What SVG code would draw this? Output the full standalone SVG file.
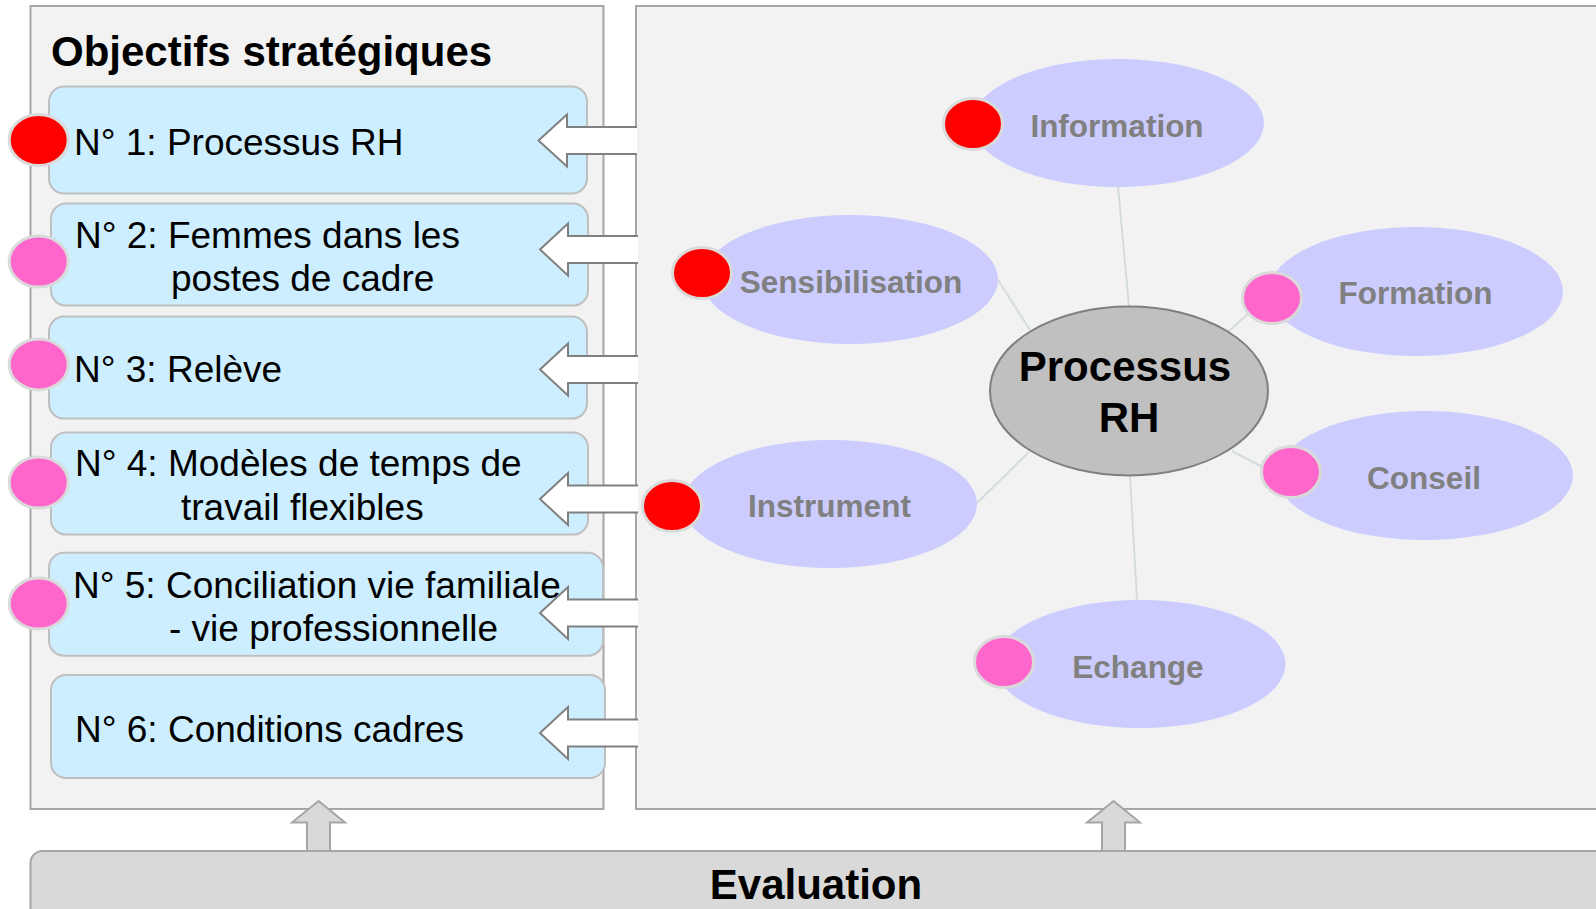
<svg xmlns="http://www.w3.org/2000/svg" width="1596" height="909" viewBox="0 0 1596 909">
<style>
.panel{fill:#f2f2f2;stroke:#a6a6a6;stroke-width:2}
.box{fill:#cceeff;stroke:#bfbfbf;stroke-width:2}
.bt{font-family:"Liberation Sans",Arial,sans-serif;font-size:37px;fill:#000}
.red{fill:#ff0000;stroke:#dadada;stroke-width:3}
.pink{fill:#ff66cc;stroke:#dadada;stroke-width:3}
.sat{fill:#ccccff}
.st{font-family:"Liberation Sans",Arial,sans-serif;font-size:31.5px;font-weight:bold;fill:#808080;text-anchor:middle}
.ba{fill:#ffffff;stroke:#808080;stroke-width:2}
.ua{fill:#d9d9d9;stroke:#a6a6a6;stroke-width:2}
.ln{stroke:#d3dbde;stroke-width:2;fill:none}
.bold{font-family:"Liberation Sans",Arial,sans-serif;font-weight:bold;fill:#000}
</style>
<rect width="1596" height="909" fill="#ffffff"/>
<g id="panel-left">
<rect class="panel" x="30.5" y="6" width="573" height="803"/>
<text class="bold" x="51" y="66" font-size="42">Objectifs stratégiques</text>
</g>
<g id="panel-right">
<rect class="panel" x="636" y="6" width="980" height="803"/>
</g>
<g id="evaluation">
<rect x="30.5" y="851" width="1590" height="80" rx="12" fill="#d9d9d9" stroke="#a6a6a6" stroke-width="2"/>
<text class="bold" x="816" y="899" font-size="42" text-anchor="middle">Evaluation</text>
</g>
<g id="connectors">
<line class="ln" x1="1118" y1="187" x2="1129" y2="306"/>
<line class="ln" x1="998" y1="280" x2="1030" y2="330"/>
<line class="ln" x1="1250" y1="312" x2="1228" y2="332"/>
<line class="ln" x1="977" y1="503" x2="1029" y2="452"/>
<line class="ln" x1="1266" y1="469" x2="1232" y2="451"/>
<line class="ln" x1="1130" y1="475" x2="1137" y2="600"/>
<path class="ua" d="M307,851 V822.5 H292 L318.6,801 L345,822.5 H330 V851 Z"/>
<path class="ua" d="M1102,851 V822.5 H1087 L1113.6,801 L1140,822.5 H1125 V851 Z"/>
</g>
<g id="obj1">
<rect class="box" x="49" y="86.5" width="538" height="107" rx="15"/>
<text class="bt" x="74" y="155">N° 1: Processus RH</text>
<ellipse class="red" cx="38.7" cy="140" rx="29.5" ry="25.5"/>
</g>
<g id="obj2">
<rect class="box" x="51" y="203.6" width="537" height="102" rx="15"/>
<text class="bt" x="75" y="248">N° 2: Femmes dans les</text>
<text class="bt" x="171" y="291">postes de cadre</text>
<ellipse class="pink" cx="38.7" cy="261.6" rx="29.5" ry="25.5"/>
</g>
<g id="obj3">
<rect class="box" x="49" y="316.6" width="538" height="102" rx="15"/>
<text class="bt" x="74" y="382">N° 3: Relève</text>
<ellipse class="pink" cx="38.7" cy="364.4" rx="29.5" ry="25.5"/>
</g>
<g id="obj4">
<rect class="box" x="51" y="432.6" width="537" height="102" rx="15"/>
<text class="bt" x="75" y="476">N° 4: Modèles de temps de</text>
<text class="bt" x="181" y="520">travail flexibles</text>
<ellipse class="pink" cx="38.7" cy="482.5" rx="29.5" ry="25.5"/>
</g>
<g id="obj5">
<rect class="box" x="49" y="552.7" width="554" height="103" rx="15"/>
<text class="bt" x="73" y="597.5">N° 5: Conciliation vie familiale</text>
<text class="bt" x="169" y="641">- vie professionnelle</text>
<ellipse class="pink" cx="38.7" cy="603.6" rx="29.5" ry="25.5"/>
</g>
<g id="obj6">
<rect class="box" x="51" y="675" width="554" height="103" rx="15"/>
<text class="bt" x="75" y="742">N° 6: Conditions cadres</text>
</g>
<g id="arrows-left">
<path class="ba" d="M637,127 H567 V114.5 L538.5,140.5 L567,166.5 V154 H637"/>
<path class="ba" d="M638,236 H568 V223.5 L540,249.5 L568,275.5 V263 H638"/>
<path class="ba" d="M638,356 H568 V343.5 L540,369.5 L568,395.5 V383 H638"/>
<path class="ba" d="M638,485.5 H568 V473 L540,499 L568,525 V512.5 H638"/>
<path class="ba" d="M638,599.5 H568 V587 L540,613 L568,639 V626.5 H638"/>
<path class="ba" d="M638,719.5 H568 V707 L540,733 L568,759 V746.5 H638"/>
</g>
<g id="information">
<ellipse class="sat" cx="1118" cy="123" rx="146" ry="64"/>
<ellipse class="red" cx="973" cy="124" rx="29.5" ry="25.5"/>
<text class="st" x="1117" y="136.5">Information</text>
</g>
<g id="sensibilisation">
<ellipse class="sat" cx="850" cy="279.5" rx="148" ry="64.5"/>
<ellipse class="red" cx="702" cy="273" rx="29.5" ry="25.5"/>
<text class="st" x="851" y="293">Sensibilisation</text>
</g>
<g id="formation">
<ellipse class="sat" cx="1416" cy="291.5" rx="147" ry="64.5"/>
<ellipse class="pink" cx="1272" cy="298" rx="29.5" ry="25.5"/>
<text class="st" x="1415.5" y="304">Formation</text>
</g>
<g id="instrument">
<ellipse class="sat" cx="830" cy="504" rx="147" ry="64"/>
<ellipse class="red" cx="672" cy="506" rx="29.5" ry="25.5"/>
<text class="st" x="829.5" y="517">Instrument</text>
</g>
<g id="conseil">
<ellipse class="sat" cx="1425" cy="475.5" rx="148" ry="64.5"/>
<ellipse class="pink" cx="1291" cy="472" rx="29.5" ry="25.5"/>
<text class="st" x="1424" y="489">Conseil</text>
</g>
<g id="echange">
<ellipse class="sat" cx="1140" cy="664" rx="145.5" ry="64"/>
<ellipse class="pink" cx="1004" cy="662" rx="29.5" ry="25.5"/>
<text class="st" x="1138" y="678">Echange</text>
</g>
<g id="processus-rh">
<ellipse cx="1129" cy="391" rx="139" ry="84.5" fill="#c0c0c0" stroke="#7f7f7f" stroke-width="2"/>
<text class="bold" x="1125" y="381" font-size="42" text-anchor="middle">Processus</text>
<text class="bold" x="1129" y="432" font-size="42" text-anchor="middle">RH</text>
</g>
</svg>
